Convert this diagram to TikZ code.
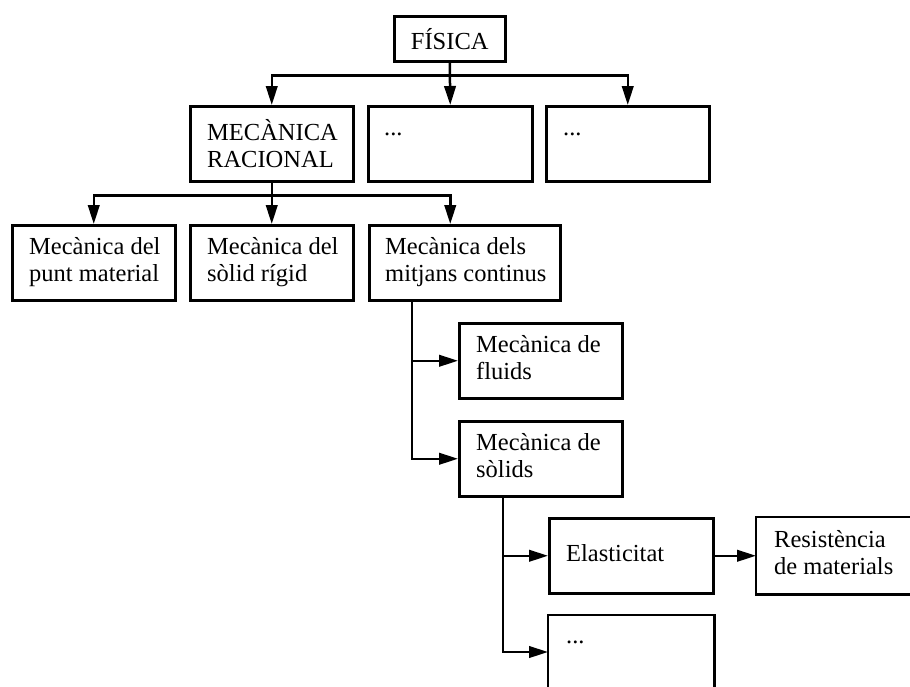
\documentclass[tikz,border=0pt]{standalone}
\usepackage{fontspec}
\setmainfont{Liberation Serif}
\usetikzlibrary{arrows.meta,calc}
\newcommand\twoln[2]{\strut #1\\\strut #2}
\begin{document}
\begin{tikzpicture}[x=1pt,y=-1pt,
  box/.style={draw, line width=2.5pt, anchor=north west, minimum height=75pt, inner sep=0pt},
  openbox/.style={box, draw=none},
  edge/.style={line width=2.5pt},
  txt/.style={align=left, inner sep=0pt, anchor=west, font=\fontsize{24.5pt}{27pt}\selectfont},
  arr/.style={line width=2.5pt, -{Triangle[length=19pt,width=11.5pt]}}]
\useasboundingbox (0,0) rectangle (910,686);
% boxes
\node[box, minimum width=111pt, minimum height=45pt] (fis) at (393,15) {};
\node[box, minimum width=163pt] (mr) at (189,105) {};
\node[box, minimum width=164pt] (t2) at (367,105) {};
\node[box, minimum width=163pt] (t3) at (545,105) {};
\node[box, minimum width=163pt] (b1) at (11,224) {};
\node[box, minimum width=163pt] (b2) at (189,224) {};
\node[box, minimum width=191pt] (b3) at (368,224) {};
\node[box, minimum width=163pt] (fl) at (458,322) {};
\node[box, minimum width=163pt] (so) at (458,420) {};
\node[box, minimum width=164pt] (el) at (548,517) {};
% boxes cut by the picture's edge
\node[openbox, minimum width=156pt] (re) at (756,517) {};
\node[openbox, minimum width=164pt, minimum height=73pt] (dd) at (548,615) {};
\draw[edge] (re.north east) -- (re.north west) -- (re.south west) -- (re.south east);
\draw[edge] (dd.south west) -- (dd.north west) -- (dd.north east) -- (dd.south east);
% texts
\node[txt, anchor=center] (tfis) at (fis.center) {FÍSICA};
\node[txt] (tmr) at ([xshift=18pt,yshift=-4pt]mr.west) {\twoln{MECÀNICA}{RACIONAL}};
\node[txt] (tt2) at ([xshift=17pt]t2.west) {\twoln{...}{}};
\node[txt] (tt3) at ([xshift=18pt]t3.west) {\twoln{...}{}};
\node[txt] (tb1) at ([xshift=18pt]b1.west) {\twoln{Mecànica del}{punt material}};
\node[txt] (tb2) at ([xshift=18pt]b2.west) {\twoln{Mecànica del}{sòlid rígid}};
\node[txt] (tb3) at ([xshift=17pt]b3.west) {\twoln{Mecànica dels}{mitjans continus}};
\node[txt] (tfl) at ([xshift=18pt]fl.west) {\twoln{Mecànica de}{fluids}};
\node[txt] (tso) at ([xshift=18pt]so.west) {\twoln{Mecànica de}{sòlids}};
\node[txt] (tel) at ([xshift=18pt]el.west) {\strut Elasticitat};
\node[txt] (tre) at ([xshift=18pt]re.west) {\twoln{Resistència}{de materials}};
\node[txt, anchor=north west] (tdd) at ([xshift=18pt,yshift=-9pt]dd.north west) {\strut ...};
% junction points
\coordinate (j1) at ($(fis.south)+(0,13)$);
\coordinate (j2) at ($(mr.south)+(0,13)$);
\coordinate (j3) at ([xshift=44pt]b3.south west);
\coordinate (j4) at ([xshift=45pt]so.south west);
\coordinate (jd) at ($(dd.north west)+(0,37)$);
% connectors
\draw[arr] (fis.south) -- (t2.north);
\draw[arr] (j1) -| (mr.north);
\draw[arr] (j1) -| (t3.north);
\draw[arr] (mr.south) -- (b2.north);
\draw[arr] (j2) -| (b1.north);
\draw[arr] (j2) -| (b3.north -| t2.south);
\draw[arr] (j3) |- (fl.west);
\draw[arr] (j3) |- (so.west);
\draw[arr] (j4) |- (el.west);
\draw[arr] (j4) |- (jd);
\draw[arr] (el.east) -- (re.west);
\end{tikzpicture}
\end{document}
